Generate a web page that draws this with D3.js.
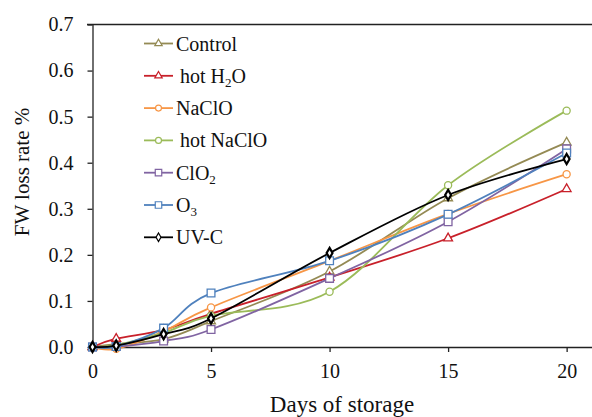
<!DOCTYPE html>
<html>
<head>
<meta charset="utf-8">
<style>
body { margin: 0; background: #fff; }
svg { font-family: 'Liberation Serif', 'Times New Roman', Times, serif; }
svg text { font-family: 'Liberation Serif', 'Times New Roman', Times, serif !important; fill: #111; }
.axis text { font-size: 20px; }
.axis path, .axis line { stroke: #222; stroke-width: 1.3px; }
</style>
<script src="https://cdnjs.cloudflare.com/ajax/libs/d3/7.8.5/d3.min.js"></script>
</head>
<body>
<svg width="592" height="417"></svg>
<script>
// days on storage
var days = [0, 1, 3, 5, 10, 15, 20];

// FW loss rate (%) per treatment
var control   = [0, 0.006, 0.017, 0.056, 0.164, 0.323, 0.444];
var hotH2O    = [0, 0.018, 0.037, 0.072, 0.151, 0.236, 0.343];
var naclo     = [0, -0.004, 0.034, 0.086, 0.187, 0.289, 0.375];
var hotNaclo  = [0, 0.004, 0.031, 0.068, 0.120, 0.351, 0.513];
var clo2      = [0, 0.001, 0.013, 0.038, 0.149, 0.272, 0.430];
var o3        = [0, 0.001, 0.041, 0.117, 0.187, 0.288, 0.421];
var uvc       = [0, 0.003, 0.028, 0.062, 0.204, 0.330, 0.408];

var names   = ["Control", "hot H2O", "NaClO", "hot NaClO", "ClO2", "O3", "UV-C"];
var values  = [control, hotH2O, naclo, hotNaclo, clo2, o3, uvc];
var colors  = ["#948A54", "#C8202A", "#F79646", "#9BBB59", "#8064A2", "#4F81BD", "#000000"];
var shapes  = [d3.symbolTriangle, d3.symbolTriangle, d3.symbolCircle, d3.symbolCircle,
               d3.symbolSquare, d3.symbolSquare, d3.symbolDiamond];

var xTicks = [0, 5, 10, 15, 20];
var yTicks = [0, 0.1, 0.2, 0.3, 0.4, 0.5, 0.6, 0.7];

var svg = d3.select("svg"),
    width = +svg.attr("width"),
    height = +svg.attr("height");

var serif = "'Liberation Serif', 'Times New Roman', serif";

var x = d3.scaleLinear().domain([0, 21.07]).range([92.5, 592]);
var y = d3.scaleLinear().domain([0, 0.7]).range([347, 24.5]);

// frame line on top
svg.append("line")
  .attr("x1", 87).attr("x2", width)
  .attr("y1", y(0.7)).attr("y2", y(0.7))
  .attr("stroke", "#222").attr("stroke-width", 1.6);

// axes
svg.append("g")
  .attr("class", "axis")
  .attr("transform", "translate(0," + y(0) + ")")
  .call(d3.axisBottom(x).tickValues(xTicks).tickSize(5).tickSizeOuter(0).tickPadding(12))
  .attr("font-family", serif).attr("font-size", 20);

svg.append("g")
  .attr("class", "axis")
  .attr("transform", "translate(" + x(0) + ",0)")
  .call(d3.axisLeft(y).tickValues(yTicks).tickFormat(d3.format(".1f")).tickSize(5).tickSizeOuter(0).tickPadding(14))
  .attr("font-family", serif).attr("font-size", 20);

// axis titles
svg.append("text")
  .attr("x", 342).attr("y", 412)
  .attr("text-anchor", "middle")
  .attr("font-family", serif)
  .style("font-size", "23px")
  .text("Days of storage");

svg.append("text")
  .attr("transform", "translate(29,172) rotate(-90)")
  .attr("text-anchor", "middle")
  .attr("font-family", serif)
  .style("font-size", "21px")
  .text("FW loss rate %");

// lines
var line = d3.line()
  .x(function(d) { return x(d[0]); })
  .y(function(d) { return y(d[1]); })
  .curve(d3.curveCatmullRom.alpha(0));

var sizes = [34, 34, 40, 40, 60, 60, 30];

values.forEach(function(vals, i) {
  var pts = days.map(function(d, j) { return [d, vals[j]]; });
  var g = svg.append("g");
  g.append("path")
    .attr("d", line(pts))
    .attr("fill", "none")
    .attr("stroke", colors[i])
    .attr("stroke-width", 1.8);
  g.selectAll("path.pt")
    .data(pts)
    .enter()
    .append("path")
    .attr("class", "pt")
    .attr("transform", function(d) { return "translate(" + x(d[0]) + "," + y(d[1]) + ")"; })
    .attr("d", d3.symbol().type(shapes[i]).size(sizes[i]))
    .attr("fill", "#fff")
    .attr("stroke", colors[i])
    .attr("stroke-width", i == 6 ? 2.2 : 1.3);
});

// legend
var legend = svg.append("g");
names.forEach(function(n, i) {
  var ly = 43.5 + i * 32.3;
  var row = legend.append("g");
  row.append("line")
    .attr("x1", 144).attr("x2", 173)
    .attr("y1", ly).attr("y2", ly)
    .attr("stroke", colors[i]).attr("stroke-width", 1.8);
  row.append("path")
    .attr("transform", "translate(158.5," + ly + ")")
    .attr("d", d3.symbol().type(shapes[i]).size(sizes[i] * 0.7))
    .attr("fill", "#fff")
    .attr("stroke", colors[i])
    .attr("stroke-width", 1.2);
  var t = row.append("text")
    .attr("x", n.indexOf("hot") == 0 ? 180 : 176)
    .attr("y", ly + 7)
    .attr("font-family", serif)
    .style("font-size", "20px");
  if (n == "hot H2O") {
    t.append("tspan").text("hot H");
    t.append("tspan").attr("dy", 4).style("font-size", "13px").text("2");
    t.append("tspan").attr("dy", -4).text("O");
  } else if (n == "ClO2" || n == "O3") {
    t.append("tspan").text(n.slice(0, -1));
    t.append("tspan").attr("dy", 4).style("font-size", "13px").text(n.slice(-1));
  } else {
    t.text(n);
  }
});
</script>
</body>
</html>
